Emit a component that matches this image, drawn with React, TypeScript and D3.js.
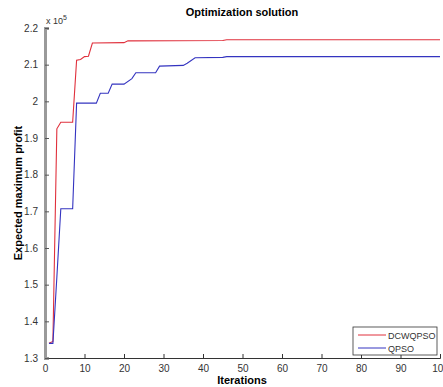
import React, { useEffect, useRef } from 'react';
import * as d3 from 'd3';

const dcwIter = [1, 2, 3, 4, 7, 8, 9, 10, 11, 12, 20, 21, 45, 46, 100];
const dcwProfit = [134000, 134500, 192500, 194300, 194300, 211200, 211400, 212200, 212300, 215900, 216000, 216500, 216600, 216800, 216800];

const qpsoIter = [1, 2, 3, 4, 7, 8, 13, 14, 16, 17, 20, 22, 23, 28, 29, 35, 36, 38, 45, 46, 100];
const qpsoProfit = [134000, 134000, 152000, 170700, 170700, 199500, 199500, 202200, 202200, 204700, 204700, 206200, 207800, 207800, 209600, 209800, 210400, 211900, 212000, 212200, 212200];

const xTicks = [0, 10, 20, 30, 40, 50, 60, 70, 80, 90, 100];
const yTicks = [130000, 140000, 150000, 160000, 170000, 180000, 190000, 200000, 210000, 220000];

const seriesNames = ['DCWQPSO', 'QPSO'];
const seriesColors = ['#e0303c', '#3434c0'];

const W = 443;
const H = 387;

const App: React.FC = () => {
  const svgRef = useRef<SVGSVGElement>(null);

  useEffect(() => {
    if (!svgRef.current) return;
    const svg = d3.select(svgRef.current);
    svg.selectAll('*').remove();

    const left = 45, right = 440, top = 28, bottom = 358;
    const x = d3.scaleLinear().domain([0, 100]).range([left, right]);
    const y = d3.scaleLinear().domain([130000, 220000]).range([bottom, top]);

    svg.append('rect').attr('width', W).attr('height', H).attr('fill', '#fff');

    const font = 'Liberation Sans, Arial, sans-serif';

    // lines
    const line = d3.line<[number, number]>().x(d => x(d[0])).y(d => y(d[1]));
    const series: [number, number][][] = [
      dcwIter.map((it, i) => [it, dcwProfit[i]]),
      qpsoIter.map((it, i) => [it, qpsoProfit[i]]),
    ];
    series.forEach((s, i) => {
      svg.append('path')
        .attr('d', line(s)!)
        .attr('fill', 'none')
        .attr('stroke', seriesColors[i])
        .attr('stroke-width', 1.1);
    });

    // x axis
    const xAxis = d3.axisBottom(x).tickValues(xTicks).tickSize(-4).tickPadding(7)
      .tickFormat(d => String(d));
    const gx = svg.append('g').attr('transform', `translate(0,${bottom})`).call(xAxis);
    gx.select('.domain').attr('stroke', '#333');
    gx.selectAll('.tick line').attr('stroke', '#333');
    gx.selectAll('.tick text').attr('font-family', font).attr('font-size', 10).attr('fill', '#333');

    // y axis
    const yAxis = d3.axisLeft(y).tickValues(yTicks).tickSize(-4).tickPadding(7)
      .tickFormat(d => d3.format('~g')((d as number) / 1e5));
    const gy = svg.append('g').attr('transform', `translate(${left},0)`).call(yAxis);
    gy.select('.domain').attr('stroke', '#9a9a9a').attr('stroke-width', 3);
    gy.selectAll('.tick line').attr('stroke', '#555');
    gy.selectAll('.tick text').attr('font-family', font).attr('font-size', 10).attr('fill', '#333');

    // exponent
    const ex = svg.append('text').attr('x', 46).attr('y', 24)
      .attr('font-family', font).attr('font-size', 9).attr('fill', '#333');
    ex.append('tspan').text('x 10');
    ex.append('tspan').attr('dy', -4).attr('font-size', 7).text('5');

    // title and labels
    svg.append('text').attr('x', 242).attr('y', 16).attr('text-anchor', 'middle')
      .attr('font-family', font).attr('font-size', 11).attr('font-weight', 'bold')
      .text('Optimization solution');
    svg.append('text').attr('x', 242).attr('y', 384).attr('text-anchor', 'middle')
      .attr('font-family', font).attr('font-size', 11).attr('font-weight', 'bold')
      .text('Iterations');
    svg.append('text')
      .attr('transform', `translate(22,${(top + bottom) / 2}) rotate(-90)`)
      .attr('text-anchor', 'middle')
      .attr('font-family', font).attr('font-size', 11).attr('font-weight', 'bold')
      .text('Expected maximum profit');

    // legend
    const lg = svg.append('g').attr('transform', 'translate(353,327)');
    lg.append('rect').attr('width', 84).attr('height', 28)
      .attr('fill', '#fff').attr('stroke', '#333').attr('stroke-width', 0.8);
    seriesNames.forEach((name, i) => {
      const ly = 8 + i * 13;
      lg.append('line').attr('x1', 5).attr('x2', 33).attr('y1', ly).attr('y2', ly)
        .attr('stroke', seriesColors[i]).attr('stroke-width', 1);
      lg.append('text').attr('x', 35).attr('y', ly + 3.5)
        .attr('font-family', font).attr('font-size', 9).attr('fill', '#333')
        .text(name);
    });
  }, []);

  return (
    <div style={{ position: 'absolute', left: 0, top: 0 }}>
      <svg ref={svgRef} width={W} height={H} style={{ display: 'block' }}></svg>
    </div>
  );
};

export default App;
